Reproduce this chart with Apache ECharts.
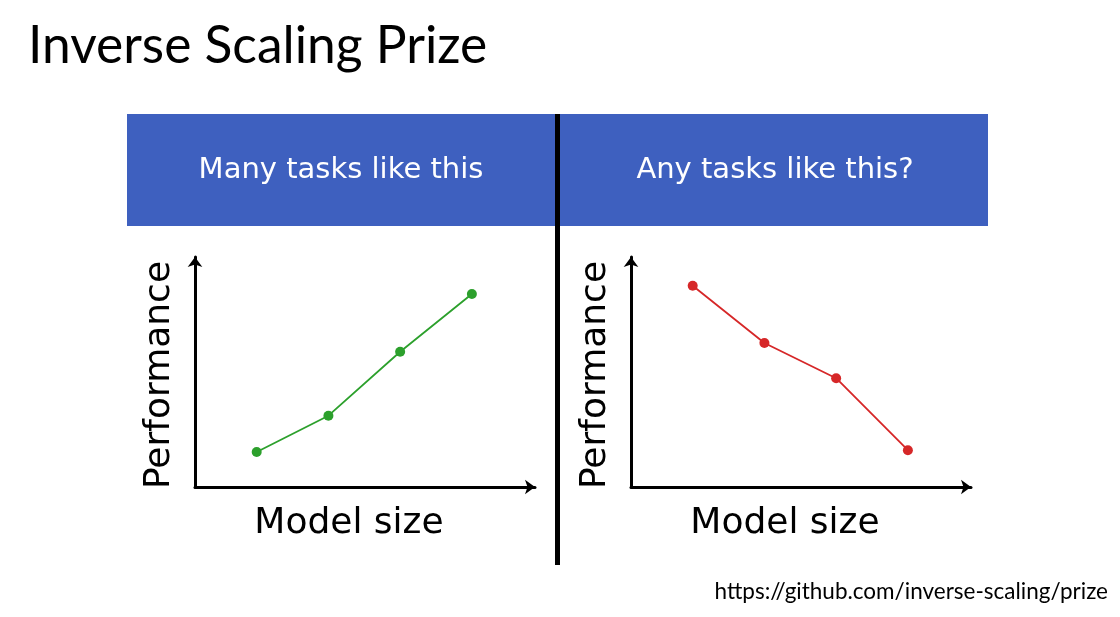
<!DOCTYPE html>
<html>
<head>
<meta charset="utf-8">
<script src="https://cdn.jsdelivr.net/npm/echarts@6/dist/echarts.min.js"></script>
<style>html,body{margin:0;padding:0;background:#fff}#c{width:1120px;height:617px}</style>
</head>
<body>
<div id="c"></div>
<script>
// Data
const modelSize = [1, 2, 3, 4];
const perfIncreasing = [1.52, 3.1, 5.88, 8.39];
const perfDecreasing = [8.75, 6.26, 4.73, 1.6];
const titleText = 'Inverse Scaling Prize';
const panelTitles = ['Many tasks like this', 'Any tasks like this?'];
const xName = 'Model size';
const yName = 'Performance';
const sourceText = 'https://github.com/inverse-scaling/prize';

const chart = echarts.init(document.getElementById('c'), null, {renderer: 'canvas'});

function xAxis(gi) {
  return {
    type: 'value', gridIndex: gi, min: 0.14, max: 4.88,
    axisLine: {show: true, onZero: false, symbol: ['none', 'arrow'], symbolSize: [11, 10],
      lineStyle: {color: '#000', width: 3}},
    axisTick: {show: false}, axisLabel: {show: false}, splitLine: {show: false},
    name: xName, nameLocation: 'middle', nameGap: 19,
    nameTextStyle: {fontFamily: 'DejaVu Sans', fontSize: 36, color: '#000', verticalAlign: 'top',
      padding: [0, 32, 0, 0]}
  };
}
function yAxis(gi) {
  return {
    type: 'value', gridIndex: gi, min: 0, max: 10,
    axisLine: {show: true, onZero: false, symbol: ['none', 'arrow'], symbolSize: [11, 10],
      lineStyle: {color: '#000', width: 3}},
    axisTick: {show: false}, axisLabel: {show: false}, splitLine: {show: false},
    name: yName, nameLocation: 'middle', nameGap: 17,
    nameTextStyle: {fontFamily: 'DejaVu Sans', fontSize: 36, color: '#000',
      padding: [0, 6, 0, 0]}
  };
}
function series(gi, data, color) {
  return {
    type: 'line', xAxisIndex: gi, yAxisIndex: gi,
    data: modelSize.map((x, i) => [x, data[i]]),
    symbol: 'circle', symbolSize: 10, showSymbol: true,
    lineStyle: {color: color, width: 1.8},
    itemStyle: {color: color},
    silent: true, animation: false
  };
}

chart.setOption({
  animation: false,
  grid: [
    {left: 195, top: 257, width: 340, height: 230},
    {left: 631, top: 257, width: 340, height: 230}
  ],
  xAxis: [xAxis(0), xAxis(1)],
  yAxis: [yAxis(0), yAxis(1)],
  series: [
    series(0, perfIncreasing, '#2ca02c'),
    series(1, perfDecreasing, '#d62728')
  ],
  graphic: [
    {type: 'rect', shape: {x: 127, y: 114, width: 861, height: 112}, style: {fill: '#3e60bf'}, z: 0},
    {type: 'rect', shape: {x: 555, y: 114, width: 5, height: 451}, style: {fill: '#000'}, z: 1},
    {type: 'text', x: 341, y: 170, z: 2, style: {text: panelTitles[0], fill: '#fff',
      font: '29px "DejaVu Sans"', textAlign: 'center', textVerticalAlign: 'middle'}},
    {type: 'text', x: 775, y: 170, z: 2, style: {text: panelTitles[1], fill: '#fff',
      font: '29px "DejaVu Sans"', textAlign: 'center', textVerticalAlign: 'middle'}},
    {type: 'text', x: 28, y: 46, z: 2, style: {text: titleText, fill: '#000',
      font: '51.5px Lato', textAlign: 'left', textVerticalAlign: 'middle'}},
    {type: 'text', x: 1108, y: 592, z: 2, style: {text: sourceText, fill: '#000',
      font: '22.5px Lato', textAlign: 'right', textVerticalAlign: 'middle'}}
  ]
});
</script>
</body>
</html>
